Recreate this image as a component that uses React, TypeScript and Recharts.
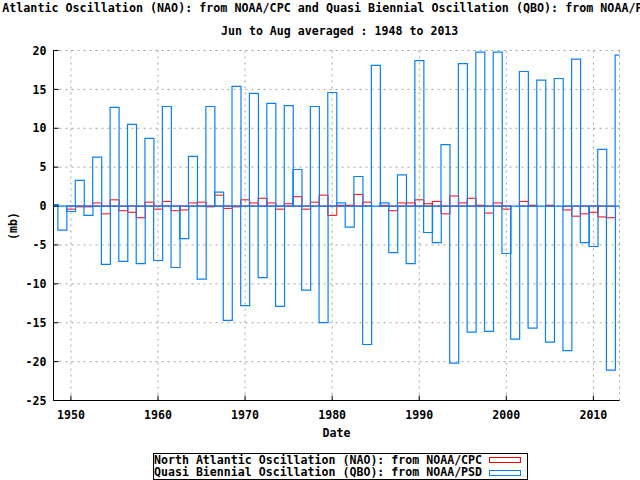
import { Bar, BarChart, CartesianGrid, Legend, XAxis, YAxis } from "recharts";

const years = [
  1948, 1949, 1950, 1951, 1952, 1953, 1954, 1955, 1956, 1957, 1958, 1959,
  1960, 1961, 1962, 1963, 1964, 1965, 1966, 1967, 1968, 1969,
  1970, 1971, 1972, 1973, 1974, 1975, 1976, 1977, 1978, 1979,
  1980, 1981, 1982, 1983, 1984, 1985, 1986, 1987, 1988, 1989,
  1990, 1991, 1992, 1993, 1994, 1995, 1996, 1997, 1998, 1999,
  2000, 2001, 2002, 2003, 2004, 2005, 2006, 2007, 2008, 2009,
  2010, 2011, 2012, 2013
];

// NAO, Jun-Aug mean
const nao = [
  0, 0, -0.4, -0.1, -0.1, 0.4, -1.0, 0.8, -0.6, -0.8, -1.5, 0.5,
  -0.4, 0.6, -0.6, -0.5, 0.4, 0.5, -0.1, 1.4, -0.3, -0.1,
  0.8, 0.4, 1.0, 0.4, -0.4, 0.3, 1.2, -0.4, 0.5, 1.4,
  -1.2, 0.1, 0.1, 1.5, 0.5, 0, 0.1, -0.6, 0.4, 0.4,
  0.8, 0.3, 0.6, -1.0, 1.3, 0.4, 1.0, 0.1, -0.9, 0.4,
  -0.4, 0, 0.6, 0.1, 0, 0.1, 0, -0.5, -1.3, -1.0,
  -0.8, -1.4, -1.5, 0
];

// QBO, Jun-Aug mean
const qbo = [
  0.2, -3.1, -0.7, 3.3, -1.2, 6.3, -7.5, 12.7, -7.1, 10.5, -7.4, 8.7,
  -7.0, 12.8, -7.9, -4.2, 6.4, -9.4, 12.8, 1.8, -14.7, 15.4,
  -12.8, 14.5, -9.2, 13.2, -12.9, 12.9, 4.7, -10.8, 12.8, -15.0,
  14.6, 0.4, -2.7, 3.8, -17.8, 18.1, 0.4, -6.0, 4.0, -7.4,
  18.7, -3.4, -4.7, 7.9, -20.2, 18.3, -16.2, 19.8, -16.1, 19.8,
  -6.1, -17.1, 17.3, -15.7, 16.2, -17.5, 16.4, -18.6, 18.9, -4.7,
  -5.2, 7.3, -21.1, 19.4
];

const yearTicks = [1950, 1960, 1970, 1980, 1990, 2000, 2010];
const mbTicks = [-25, -20, -15, -10, -5, 0, 5, 10, 15, 20];

const seriesNames = [
  "North Atlantic Oscillation (NAO): from NOAA/CPC",
  "Quasi Biennial Oscillation (QBO): from NOAA/PSD"
];
const seriesColors = ["#ff0000", "#0a80f5"];

const titleLines = [
  "North Atlantic Oscillation (NAO): from NOAA/CPC and Quasi Biennial Oscillation (QBO): from NOAA/PSD",
  "Jun to Aug averaged : 1948 to 2013"
];

const rows = years.map((year, i) => ({ year, nao: nao[i], qbo: qbo[i] }));

const font = "'DejaVu Sans Mono', monospace";
const tickFont = { fill: "#000", fontSize: 11.6, fontFamily: font, fontWeight: "bold" };
const textStyle = {
  position: "absolute" as const,
  fontFamily: font,
  fontSize: 11.6,
  fontWeight: "bold" as const,
  lineHeight: "14px",
  whiteSpace: "pre" as const,
  color: "#000"
};

function LegendBox() {
  return (
    <div style={{ position: "relative", width: 373, height: 25, border: "1px solid #000", background: "#fff" }}>
      {seriesNames.map((name, i) => (
        <div key={name} style={{ position: "absolute", left: 0, top: i * 12.5, height: 12.5 }}>
          <span style={{ ...textStyle, position: "absolute", left: 0, top: -0.5, lineHeight: "13px" }}>{name}</span>
          <span
            style={{
              position: "absolute",
              left: 335,
              top: 3,
              width: 30,
              height: 4,
              border: `1px solid ${seriesColors[i]}`
            }}
          />
        </div>
      ))}
    </div>
  );
}

export default function App() {
  return (
    <div style={{ position: "absolute", left: 0, top: 0, width: 640, height: 480, overflow: "hidden", background: "#fff" }}>
      <div style={{ ...textStyle, fontSize: 11.7, left: -40, top: 1 }}>{titleLines[0]}</div>
      <div style={{ ...textStyle, left: 221, top: 24 }}>{titleLines[1]}</div>
      <div style={{ ...textStyle, left: 13, top: 226, transform: "translate(-50%, -50%) rotate(-90deg)" }}>(mb)</div>
      <BarChart
        width={640}
        height={480}
        data={rows}
        margin={{ top: 50.5, right: 20.5, bottom: 39.5, left: 0 }}
        barCategoryGap={0}
        barGap={0}
      >
        <CartesianGrid stroke="#a0a0a0" strokeDasharray="2 4" />
        <XAxis
          dataKey="year"
          type="number"
          domain={[1948, 2013]}
          ticks={yearTicks}
          allowDataOverflow
          height={40}
          tickSize={-5}
          tickMargin={15}
          tick={tickFont}
          axisLine={{ stroke: "#000" }}
          tickLine={{ stroke: "#000" }}
          label={{ value: "Date", position: "insideBottom", offset: 3.5, fill: "#000", fontSize: 11.6, fontFamily: font, fontWeight: "bold" }}
        />
        <XAxis
          xAxisId="top"
          orientation="top"
          dataKey="year"
          type="number"
          domain={[1948, 2013]}
          ticks={yearTicks}
          allowDataOverflow
          height={0}
          tick={false}
          tickSize={-5}
          axisLine={{ stroke: "#000" }}
          tickLine={{ stroke: "#000" }}
        />
        <YAxis
          type="number"
          domain={[-25, 20]}
          ticks={mbTicks}
          width={53.5}
          tickSize={-5}
          tickMargin={12}
          tick={tickFont}
          axisLine={{ stroke: "#000" }}
          tickLine={{ stroke: "#000" }}
        />
        <YAxis
          yAxisId="right"
          orientation="right"
          type="number"
          domain={[-25, 20]}
          ticks={mbTicks}
          allowDataOverflow
          width={0}
          tick={false}
          tickSize={-5}
          axisLine={{ stroke: "#000" }}
          tickLine={{ stroke: "#000" }}
        />
        <Legend
          layout="vertical"
          align="center"
          verticalAlign="middle"
          wrapperStyle={{ left: 153, top: 453, width: 375, height: 27 }}
          content={() => <LegendBox />}
        />
        <Bar dataKey="nao" name={seriesNames[0]} fill="none" stroke={seriesColors[0]} strokeWidth={1} isAnimationActive={false} />
        <Bar xAxisId="top" dataKey="qbo" name={seriesNames[1]} fill="none" stroke={seriesColors[1]} strokeWidth={1.2} isAnimationActive={false} />
      </BarChart>
    </div>
  );
}
